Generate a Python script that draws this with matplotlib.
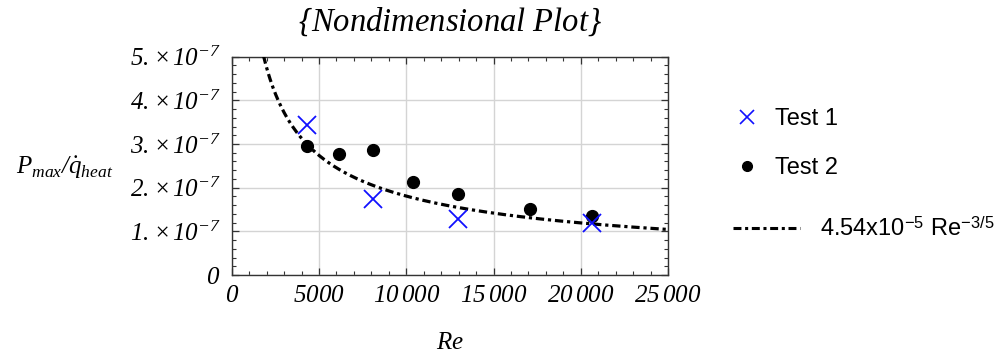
import matplotlib
matplotlib.use("Agg")
import matplotlib.pyplot as plt
from matplotlib.lines import Line2D
from matplotlib.ticker import MultipleLocator
import numpy as np

plt.rcParams['mathtext.fontset'] = 'custom'
plt.rcParams['mathtext.rm'] = 'Liberation Serif:italic'
plt.rcParams['mathtext.it'] = 'Liberation Serif:italic'
plt.rcParams['mathtext.sf'] = 'Liberation Sans'

# Measured data
re_test1 = [4330, 8110, 12950, 20630]
val_test1 = [3.44e-7, 1.74e-7, 1.28e-7, 1.20e-7]

re_test2 = [4330, 6170, 8080, 10370, 12970, 17110, 20630]
val_test2 = [2.95e-7, 2.78e-7, 2.87e-7, 2.12e-7, 1.865e-7, 1.50e-7, 1.34e-7]

# Power-law fit  P/q = C * Re^n
fit_coeff = 4.54e-5
fit_exp = -3 / 5

x_ticks = [0, 5000, 10000, 15000, 20000, 25000]
x_tick_labels = [r'$0$', r'$5000$', r'$10\,000$', r'$15\,000$', r'$20\,000$', r'$25\,000$']
y_ticks = [0, 1e-7, 2e-7, 3e-7, 4e-7, 5e-7]
y_tick_labels = [r'$0$',
                 r'$1.\hspace{0.08}{\times}\hspace{0.08}10^{-7}$',
                 r'$2.\hspace{0.08}{\times}\hspace{0.08}10^{-7}$',
                 r'$3.\hspace{0.08}{\times}\hspace{0.08}10^{-7}$',
                 r'$4.\hspace{0.08}{\times}\hspace{0.08}10^{-7}$',
                 r'$5.\hspace{0.08}{\times}\hspace{0.08}10^{-7}$']

label_test1 = 'Test 1'
label_test2 = 'Test 2'
label_fit = r'4.54x10$^{\mathsf{-5}}$ Re$^{\mathsf{-3/5}}$'

fig = plt.figure(figsize=(10.07, 3.52), dpi=100)
ax = fig.add_axes([0.2301, 0.2188, 0.4333, 0.6202])

fit_dashes = (2.6, 1.2, 1.0, 1.2)
re_fit = np.linspace(1000, 25000, 600)
ax.plot(re_fit, fit_coeff * re_fit ** fit_exp, color='black', lw=2.3,
        dashes=fit_dashes, zorder=3)
ax.plot(re_test2, val_test2, 'o', color='black', ms=8.5, zorder=4)
ax.plot(re_test1, val_test1, 'x', color='#1010ff', ms=13, mew=1.3, zorder=5)

ax.set_xlim(0, 25000)
ax.set_ylim(0, 5e-7)
ax.set_xticks(x_ticks, labels=x_tick_labels)
ax.set_yticks(y_ticks, labels=y_tick_labels)
ax.xaxis.set_minor_locator(MultipleLocator(1000))
ax.yaxis.set_minor_locator(MultipleLocator(0.2e-7))
ax.tick_params(which='both', direction='in', top=True, right=True, colors='#333333',
               labelcolor='black', labelsize=18)
ax.tick_params(which='major', length=5, width=0.9)
ax.tick_params(which='minor', length=3, width=0.8)
ax.tick_params(axis='x', pad=6)
ax.tick_params(axis='y', pad=8)
ax.grid(True, which='major', color='#d4d4d4', lw=1.0, zorder=0)
ax.set_axisbelow(True)
for s in ax.spines.values():
    s.set_color('#333333')
    s.set_linewidth(1.0)

ax.set_title(r'$\{Nondimensional\ Plot\}$', fontsize=23.5, pad=19)
ax.set_xlabel(r'$Re$', fontsize=18, labelpad=16)
ax.set_ylabel(r'$P_{max}/\dot{q}_{heat}$', fontsize=18, rotation=0, ha='center', va='center')
ax.yaxis.set_label_coords(-0.383, 0.49)

# Legends
pt_handles = [
    Line2D([], [], ls='none', marker='x', color='#1010ff', ms=9.5, mew=1.2),
    Line2D([], [], ls='none', marker='o', color='black', ms=7),
]
leg1 = ax.legend(pt_handles, [label_test1, label_test2], loc='upper left',
                 bbox_to_anchor=(735 / 1007, 1 - 108 / 352), bbox_transform=fig.transFigure,
                 frameon=False, prop={'family': 'Liberation Sans', 'size': 17},
                 handlelength=1.0, handletextpad=0.7, labelspacing=1.15,
                 borderpad=0, borderaxespad=0)
ax.add_artist(leg1)
line_handle = Line2D([], [], color='black', lw=2.2, dashes=fit_dashes)
ax.legend([line_handle], [label_fit], loc='upper left',
          bbox_to_anchor=(733 / 1007, 1 - 217 / 352), bbox_transform=fig.transFigure,
          frameon=False, prop={'family': 'Liberation Sans', 'size': 17},
          handlelength=2.85, handletextpad=0.85, borderpad=0, borderaxespad=0)

fig.savefig('out.png', dpi=100)
